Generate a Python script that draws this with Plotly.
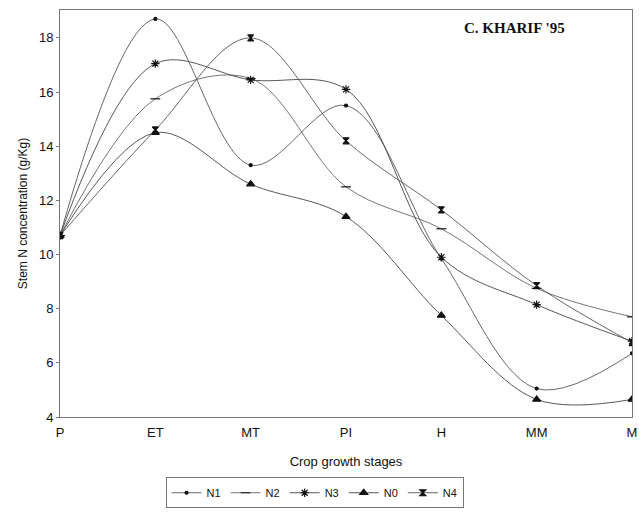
import plotly.graph_objects as go

stages = ["P", "ET", "MT", "PI", "H", "MM", "M"]
n1 = [10.7, 18.7, 13.3, 15.5, 9.85, 5.05, 6.35]
n2 = [10.7, 15.75, 16.5, 12.5, 10.95, 8.75, 7.7]
n3 = [10.7, 17.05, 16.45, 16.1, 9.9, 8.15, 6.8]
n0 = [10.7, 14.5, 12.6, 11.4, 7.75, 4.65, 4.65]
n4 = [10.7, 14.6, 18.0, 14.2, 11.65, 8.85, 6.75]

series = [
    ("N1", n1, "circle", 3, "#555555"),
    ("N2", n2, "line-ew", 7, "#666666"),
    ("N3", n3, "asterisk", 7, "#444444"),
    ("N0", n0, "triangle-up", 7, "#444444"),
    ("N4", n4, "hourglass", 6, "#555555"),
]

xs = list(range(len(stages)))
fig = go.Figure()
for name, vals, sym, sz, col in series:
    fig.add_trace(go.Scatter(
        x=xs, y=vals, name=name, mode="lines+markers",
        line=dict(color=col, width=0.9, shape="spline", smoothing=1.0),
        marker=dict(symbol=sym, size=sz, color="#111111",
                    line=dict(color="#111111", width=1.2)),
    ))

fig.add_annotation(x=0.795, y=0.98, xref="paper", yref="paper",
                   text="<b>C. KHARIF '95</b>", showarrow=False,
                   xanchor="center", yanchor="top",
                   font=dict(family="Liberation Serif", size=15, color="#111111"))

fig.update_layout(
    width=643, height=512,
    margin=dict(l=60, r=11, t=10, b=95, autoexpand=False),
    paper_bgcolor="white", plot_bgcolor="white",
    font=dict(family="Liberation Sans", size=12, color="#111111"),
    showlegend=True,
    legend=dict(orientation="h", x=0.445, y=-0.148, xanchor="center", yanchor="top",
                bordercolor="#777777", borderwidth=1, font=dict(size=11),
                itemwidth=30, tracegroupgap=0),
)
fig.update_xaxes(range=[0, 6], tickvals=xs, ticktext=stages,
                 showgrid=False, zeroline=False, automargin=False,
                 showline=True, linecolor="#777777", linewidth=1, mirror=True,
                 ticks="", ticklabelstandoff=3,
                 title=dict(text="Crop growth stages", standoff=18,
                            font=dict(size=13)),
                 tickfont=dict(size=13))
fig.update_yaxes(range=[4, 19.03], tickvals=[4, 6, 8, 10, 12, 14, 16, 18],
                 showgrid=False, zeroline=False, automargin=False,
                 showline=True, linecolor="#777777", linewidth=1, mirror=True,
                 ticks="outside", ticklen=3, tickcolor="#777777",
                 title=dict(text="Stem N concentration (g/Kg)", standoff=8,
                            font=dict(size=12)),
                 tickfont=dict(size=13))

fig.write_html("out.html")
